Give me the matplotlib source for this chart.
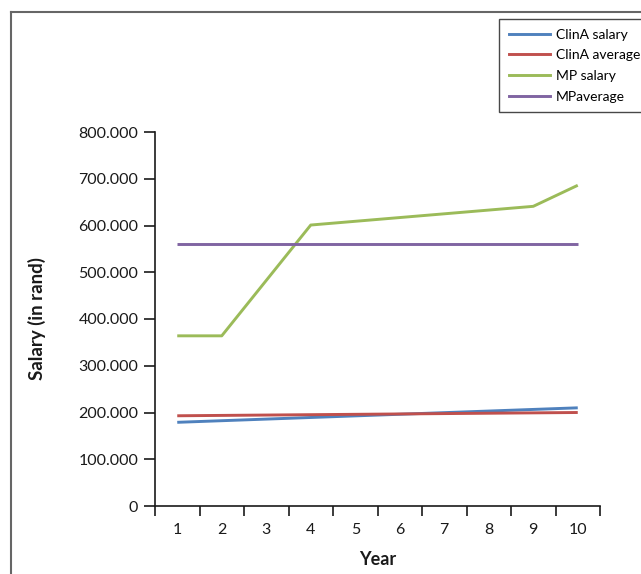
import matplotlib
matplotlib.use("Agg")
import matplotlib.pyplot as plt
from matplotlib.lines import Line2D
from matplotlib.ticker import FuncFormatter, FixedLocator

plt.rcParams['font.family'] = ['Lato', 'DejaVu Sans']

years = [1, 2, 3, 4, 5, 6, 7, 8, 9, 10]
year_labels = [str(y) for y in years]

clina_salary_x = [1, 10]
clina_salary = [179000, 210000]
clina_avg_x = [1, 10]
clina_avg = [193000, 200000]
mp_salary_x = [1, 2, 4, 9, 10]
mp_salary = [364000, 364000, 601000, 641000, 686000]
mp_avg_x = [1, 10]
mp_avg = [560000, 560000]

series_names = ["ClinA salary", "ClinA average", "MP salary", "MPaverage"]
colors = ["#4F81BD", "#C0504D", "#9BBB59", "#8064A2"]

W, H = 641, 574
fig = plt.figure(figsize=(W / 100, H / 100), dpi=100)
ax = fig.add_axes([155 / W, 1 - 506 / H, (600 - 155) / W, (506 - 132) / H])

lw = 2.1
ax.plot(clina_salary_x, clina_salary, color=colors[0], lw=lw, solid_capstyle='butt')
ax.plot(clina_avg_x, clina_avg, color=colors[1], lw=lw, solid_capstyle='butt')
ax.plot(mp_salary_x, mp_salary, color=colors[2], lw=lw, solid_capstyle='butt')
ax.plot(mp_avg_x, mp_avg, color=colors[3], lw=lw, solid_capstyle='butt')

ax.set_xlim(0.5, 10.5)
ax.set_ylim(0, 800000)
ax.set_yticks(range(0, 800001, 100000))
ax.yaxis.set_major_formatter(FuncFormatter(lambda v, p: "0" if v == 0 else f"{int(v/1000)}.000"))
ax.set_xticks(years)
ax.set_xticklabels(year_labels)
ax.xaxis.set_minor_locator(FixedLocator([y - 0.5 for y in years] + [10.5]))
ax.tick_params(axis='x', which='major', length=0, pad=12, labelsize=11.5, colors='#1a1a1a')
ax.tick_params(axis='x', which='minor', length=7, width=1.2, direction='out', color='#1a1a1a')
ax.tick_params(axis='y', which='major', length=8, width=1.2, direction='out', labelsize=11.5,
               colors='#1a1a1a', pad=4)

for s in ['top', 'right']:
    ax.spines[s].set_visible(False)
for s in ['left', 'bottom']:
    ax.spines[s].set_linewidth(1.2)
    ax.spines[s].set_color('#1a1a1a')

ax.set_xlabel("Year", fontsize=13, fontweight='bold', labelpad=10, color='#1a1a1a')
ax.set_ylabel("Salary (in rand)", fontsize=13.5, fontweight='bold', color='#1a1a1a')
ax.yaxis.set_label_coords((46 - 155) / (600 - 155), 0.5)

# outer border
fig.add_artist(Line2D([11 / W, 11 / W], [0, 1 - 12 / H], transform=fig.transFigure,
                      color='#666666', lw=1.5))
fig.add_artist(Line2D([11 / W, 1], [1 - 12 / H, 1 - 12 / H], transform=fig.transFigure,
                      color='#666666', lw=1.5))

handles = [Line2D([], [], color=c, lw=2.1) for c in colors]
leg = fig.legend(handles, series_names, loc='upper left',
                 bbox_to_anchor=(499 / W, 1 - 19 / H), bbox_transform=fig.transFigure,
                 borderaxespad=0, fontsize=10, frameon=True, fancybox=False,
                 handlelength=3.0, handletextpad=0.4, labelspacing=0.62,
                 borderpad=0.7)
leg.get_frame().set_edgecolor('#1a1a1a')
leg.get_frame().set_linewidth(1.0)

fig.savefig("out.png", dpi=100)
